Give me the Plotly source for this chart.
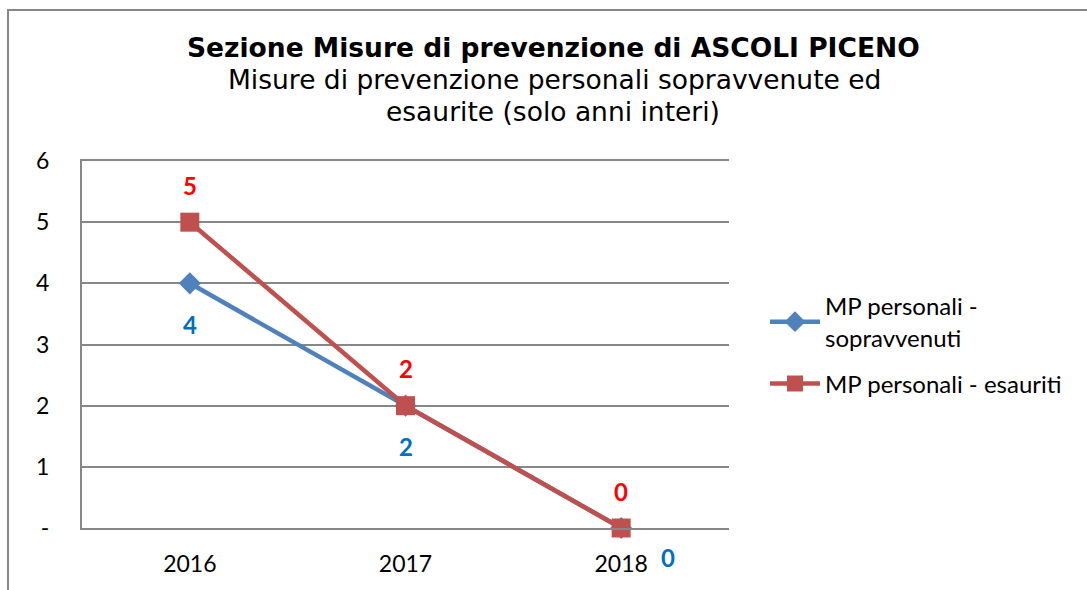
import plotly.graph_objects as go

years = ["2016", "2017", "2018"]
sopravvenuti = [4, 2, 0]
esauriti = [5, 2, 0]
y_tickvals = [0, 1, 2, 3, 4, 5, 6]
y_ticktext = ["-", "1", "2", "3", "4", "5", "6"]

BLUE = "#4F81BD"
RED = "#C0504D"
LBL_BLUE = "#0070C0"
LBL_RED = "#FF0000"
GRID = "#878787"
FONT = "Lato"

W, H = 1087, 590
L, R, T, B = 82, 729, 161, 528

fig = go.Figure()
fig.add_trace(go.Scatter(
    x=years, y=sopravvenuti, mode="lines+markers",
    name="MP personali -<br>sopravvenuti", legendgroup="a",
    line=dict(color=BLUE, width=4.5),
    marker=dict(symbol="diamond", size=17, color=BLUE),
    cliponaxis=False,
))
fig.add_trace(go.Scatter(
    x=years, y=esauriti, mode="lines+markers",
    name="MP personali - esauriti", legendgroup="b",
    line=dict(color=RED, width=4.5),
    marker=dict(symbol="square", size=19, color=RED),
    cliponaxis=False,
))

annotations = []
for i, v in enumerate(esauriti):
    annotations.append(dict(x=i, y=v, xref="x", yref="y", text=f"<b>{v}</b>",
                            showarrow=False, yshift=37,
                            font=dict(family=FONT, size=24, color=LBL_RED)))
for i, v in enumerate(sopravvenuti):
    xs, ys = (0, -41) if i < 2 else (47, -29)
    annotations.append(dict(x=i, y=v, xref="x", yref="y", text=f"<b>{v}</b>",
                            showarrow=False, xshift=xs, yshift=ys,
                            font=dict(family=FONT, size=24, color=LBL_BLUE)))

def px_x(px):
    return (px - L) / (R - L)

def px_y(py):
    return (B - py) / (B - T)

annotations += [
    dict(x=px_x(553), y=px_y(47), xref="paper", yref="paper", showarrow=False,
         text="<b>Sezione Misure di prevenzione di ASCOLI PICENO</b>",
         font=dict(family="DejaVu Sans", size=26.5, color="#000000"),
         xanchor="center", yanchor="middle"),
    dict(x=px_x(554), y=px_y(80), xref="paper", yref="paper", showarrow=False,
         text="Misure di prevenzione personali sopravvenute ed",
         font=dict(family="DejaVu Sans", size=26.5, color="#000000"),
         xanchor="center", yanchor="middle"),
    dict(x=px_x(553), y=px_y(112), xref="paper", yref="paper", showarrow=False,
         text="esaurite (solo anni interi)",
         font=dict(family="DejaVu Sans", size=26.5, color="#000000"),
         xanchor="center", yanchor="middle"),
]

fig.update_layout(
    width=W, height=H,
    margin=dict(l=L, r=W - R, t=T, b=H - B, pad=0, autoexpand=False),
    paper_bgcolor="white", plot_bgcolor="white",
    showlegend=True,
    legend=dict(x=px_x(765), y=px_y(284), xanchor="left", yanchor="top",
                font=dict(family=FONT, size=24, color="#000000"),
                traceorder="grouped", tracegroupgap=12, itemwidth=50,
                bgcolor="rgba(0,0,0,0)"),
    annotations=annotations,
    shapes=[dict(type="rect", xref="paper", yref="paper",
                 x0=px_x(8), x1=px_x(1100), y0=px_y(600), y1=px_y(10),
                 line=dict(color=GRID, width=2), layer="below")],
    xaxis=dict(type="category", showgrid=False, showline=True, linecolor=GRID,
               linewidth=2, mirror=True, ticks="", range=[-0.5, 2.5],
               tickfont=dict(family=FONT, size=23, color="#000000"),
               ticklabelstandoff=14, fixedrange=True, automargin=False),
    yaxis=dict(range=[0, 6], tickvals=y_tickvals, ticktext=y_ticktext,
               showgrid=True, gridcolor=GRID, gridwidth=2, zeroline=False,
               showline=True, linecolor=GRID, linewidth=2, ticks="",
               tickfont=dict(family=FONT, size=23, color="#000000"),
               ticklabelstandoff=26, fixedrange=True, automargin=False),
)

fig.write_html("out.html", config={"displayModeBar": False},
               post_script="document.body.style.margin='0';document.body.style.overflow='hidden';")
